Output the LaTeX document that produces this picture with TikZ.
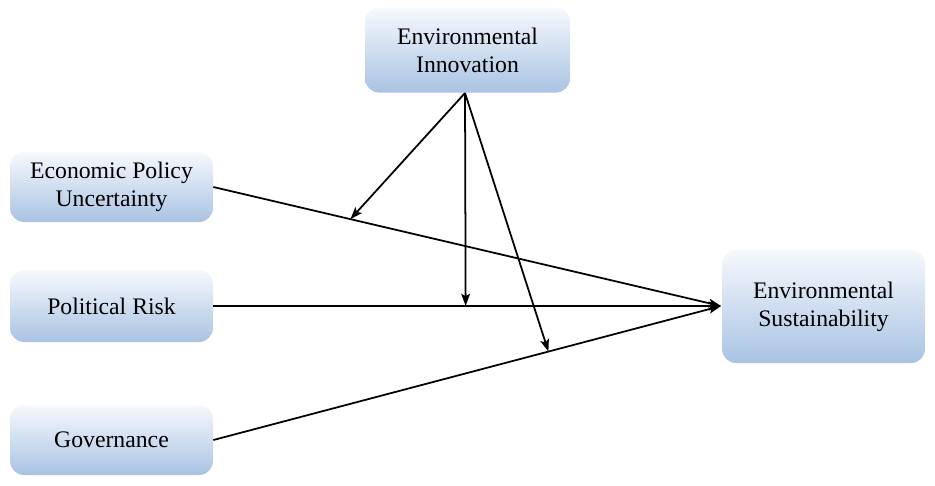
\documentclass[tikz,border=0pt]{standalone}
\usepackage{fontspec}
\setmainfont{Liberation Serif}
\usetikzlibrary{arrows.meta,calc}
\definecolor{boxtop}{HTML}{F6F9FD}
\definecolor{boxbot}{HTML}{A9C3E3}
\tikzset{
  varbox/.style={rounded corners=8pt, top color=boxtop, bottom color=boxbot,
    draw=none, align=center, font=\fontsize{13.5}{16}\selectfont, inner sep=0pt},
  link/.style={line width=1pt, -{Stealth[length=7pt,width=5pt,inset=1.5pt]}}
}
\begin{document}
\begin{tikzpicture}[x=0.02cm,y=-0.02cm]
\useasboundingbox (0,0) rectangle (935,485);
\node[varbox, minimum width=205*0.02cm, minimum height=85*0.02cm] (EI) at (467.5,50) {Environmental\\Innovation};
\node[varbox, minimum width=203*0.02cm, minimum height=70*0.02cm] (EPU) at (111.5,187) {Economic Policy\\Uncertainty};
\node[varbox, minimum width=203*0.02cm, minimum height=72*0.02cm] (PR) at (111.5,306) {Political Risk};
\node[varbox, minimum width=203*0.02cm, minimum height=70*0.02cm] (GOV) at (111.5,440) {Governance};
\node[varbox, minimum width=203*0.02cm, minimum height=113*0.02cm] (ES) at (823.5,306.5) {Environmental\\Sustainability};
\coordinate (src) at (465,93);
\coordinate (tgt) at (721,306);
\draw[link] (EPU.east) -- (tgt);
\draw[link] (PR.east) -- (tgt);
\draw[link] (GOV.east) -- (tgt);
\coordinate (m1) at ($(EPU.east)!0.27!(tgt)$);
\coordinate (m2) at ($(PR.east)!0.497!(tgt)$);
\coordinate (m3) at ($(GOV.east)!0.66!(tgt)$);
\draw[link] (src) -- (m1);
\draw[link] (src) -- (m2);
\draw[link] (src) -- (m3);
\end{tikzpicture}
\end{document}
